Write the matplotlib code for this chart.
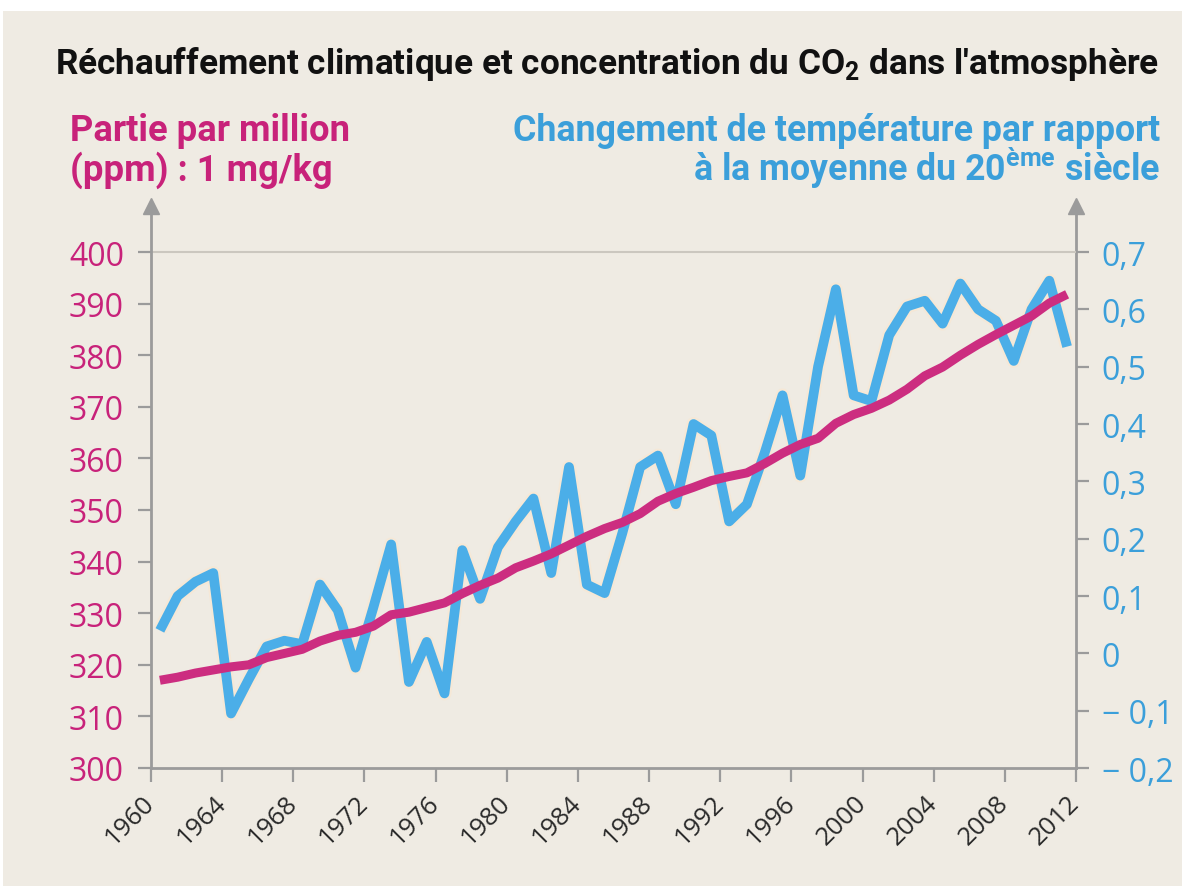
import numpy as np
import matplotlib
matplotlib.use("Agg")
import matplotlib.pyplot as plt
import matplotlib.patheffects as pe
import matplotlib.transforms as mtrans
from matplotlib.patches import Rectangle

# ---------------- data ----------------
years = list(range(1960, 2012))
co2_ppm = [317.0, 317.6, 318.4, 319.0, 319.6, 320.0, 321.4, 322.2, 323.0, 324.6,
           325.7, 326.3, 327.5, 329.7, 330.2, 331.1, 332.0, 333.8, 335.4, 336.8,
           338.8, 340.1, 341.5, 343.2, 344.9, 346.4, 347.6, 349.3, 351.7, 353.2,
           354.4, 355.7, 356.5, 357.2, 359.0, 361.0, 362.7, 363.9, 366.8, 368.5,
           369.7, 371.3, 373.4, 376.0, 377.7, 380.0, 382.1, 384.0, 385.8, 387.6,
           390.1, 391.8]
temp_anomaly = [0.04, 0.10, 0.125, 0.14, -0.105, -0.045, 0.012, 0.022, 0.016, 0.12,
                0.075, -0.025, 0.08, 0.19, -0.05, 0.02, -0.07, 0.18, 0.095, 0.185,
                0.23, 0.27, 0.14, 0.325, 0.12, 0.105, 0.21, 0.325, 0.345, 0.26,
                0.40, 0.38, 0.23, 0.26, 0.35, 0.45, 0.31, 0.50, 0.635, 0.45,
                0.44, 0.555, 0.605, 0.615, 0.575, 0.645, 0.60, 0.58, 0.51, 0.60,
                0.65, 0.535]
x_ticks = list(range(1960, 2013, 4))
left_ticks = list(range(300, 401, 10))
right_ticks = [-0.2, -0.1, 0, 0.1, 0.2, 0.3, 0.4, 0.5, 0.6, 0.7]
right_labels = ["\u2212 0,2", "\u2212 0,1", "0", "0,1", "0,2", "0,3", "0,4", "0,5", "0,6", "0,7"]

title = r"Réchauffement climatique et concentration du CO$_{\mathbf{2}}$ dans l'atmosphère"
left_label = ["Partie par million", "(ppm) : 1 mg/kg"]
right_label = ["Changement de température par rapport",
               r"à la moyenne du 20$^{\mathbf{ème}}$ siècle"]

# ---------------- style ----------------
BG = "#efebe3"
GRAY = "#9b9b9b"
MAG = "#cc2d80"
MAG_T = "#c8227a"
BLUE = "#4baee8"
BLUE_T = "#3b9fda"
COND = ["Roboto", "DejaVu Sans"]
TICKF = ["Open Sans", "DejaVu Sans"]

plt.rcParams["mathtext.fontset"] = "custom"
plt.rcParams["mathtext.bf"] = "Roboto:bold"
plt.rcParams["mathtext.rm"] = "Roboto"

W, H = 1182, 887
fig = plt.figure(figsize=(W / 100, H / 100), dpi=100, facecolor="white")
fig.patches.append(Rectangle((3 / W, 0), 1, 1 - 12 / H, transform=fig.transFigure,
                             facecolor=BG, edgecolor="none", zorder=-10))

x0, x1 = 151, 1076
yb, yt, y400 = 769, 207, 253
ax = fig.add_axes([x0 / W, 1 - yb / H, (x1 - x0) / W, (yb - yt) / H])
ax.set_facecolor("none")
ytop = 300 + 100 * (yb - yt) / (yb - y400)
ax.set_ylim(300, ytop)
ax.set_xlim(1960, 2012)
ax2 = ax.twinx()
ax2.set_ylim(-0.2, -0.2 + 0.9 * (ytop - 300) / 100)

xs = np.array(years) + 0.5
ax2.plot(xs, temp_anomaly, color=BLUE, lw=7, solid_joinstyle="round",
         solid_capstyle="butt", zorder=2,
         path_effects=[pe.Stroke(linewidth=10, foreground="#f6e8d6"), pe.Normal()])
ax.set_zorder(ax2.get_zorder() + 1)
ax.patch.set_visible(False)
ax.plot(xs, co2_ppm, color=MAG, lw=6.5, solid_capstyle="butt",
        solid_joinstyle="round", zorder=3)
ax.axhline(400, color="#cbc7bf", lw=1.5, zorder=1)

for a in (ax, ax2):
    for s in a.spines.values():
        s.set_visible(False)
ax.spines["left"].set_visible(True)
ax.spines["bottom"].set_visible(True)
ax2.spines["right"].set_visible(True)
for s in (ax.spines["left"], ax.spines["bottom"], ax2.spines["right"]):
    s.set_color(GRAY)
    s.set_linewidth(2)
ax.plot([0], [1], marker="^", ms=11, color=GRAY, transform=ax.transAxes, clip_on=False)
ax.plot([1], [1], marker="^", ms=11, color=GRAY, transform=ax.transAxes, clip_on=False)

ax.set_xticks(x_ticks)
ax.set_xticklabels([str(t) for t in x_ticks], rotation=45, ha="right", va="center",
                   rotation_mode="anchor", fontsize=18.5, family=TICKF, color="#2a2a2a")
off = mtrans.ScaledTranslation(6 / 72, 0, fig.dpi_scale_trans)
for lab in ax.get_xticklabels():
    lab.set_transform(lab.get_transform() + off)
ax.set_yticks(left_ticks)
ax.set_yticklabels([str(t) for t in left_ticks], fontsize=23, family=TICKF, color=MAG_T)
ax2.set_yticks(right_ticks)
ax2.set_yticklabels(right_labels, fontsize=23, family=TICKF, color=BLUE_T)
ax.tick_params(axis="y", length=9.5, width=1.6, color=GRAY, pad=10)
ax.tick_params(axis="x", length=10, width=1.6, color=GRAY, pad=12)
ax2.tick_params(axis="y", length=9.5, width=1.6, color=GRAY, pad=9)


def fx(px):
    return px / W


def fy(py):
    return 1 - py / H


renderer = fig.canvas.get_renderer()


def fit(t, target_w):
    w = t.get_window_extent(renderer).width
    t.set_fontsize(t.get_fontsize() * target_w / w)


t_title = fig.text(fx(55), fy(74), title, fontsize=24, fontweight="bold", family=COND,
                   color="#111111")
fit(t_title, 1105)
tl1 = fig.text(fx(70), fy(141), left_label[0], fontsize=24, fontweight="bold", family=COND,
               color=MAG_T)
fit(tl1, 280)
tl2 = fig.text(fx(70), fy(181), left_label[1], fontsize=tl1.get_fontsize(), fontweight="bold",
               family=COND, color=MAG_T)
tr1 = fig.text(fx(1160), fy(141), right_label[0], fontsize=24, fontweight="bold", family=COND,
               color=BLUE_T, ha="right")
fit(tr1, 650)
tr2 = fig.text(fx(1160), fy(181), right_label[1], fontsize=tr1.get_fontsize(),
               fontweight="bold", family=COND, color=BLUE_T, ha="right")

fig.savefig("out.png", dpi=100, facecolor="white")
